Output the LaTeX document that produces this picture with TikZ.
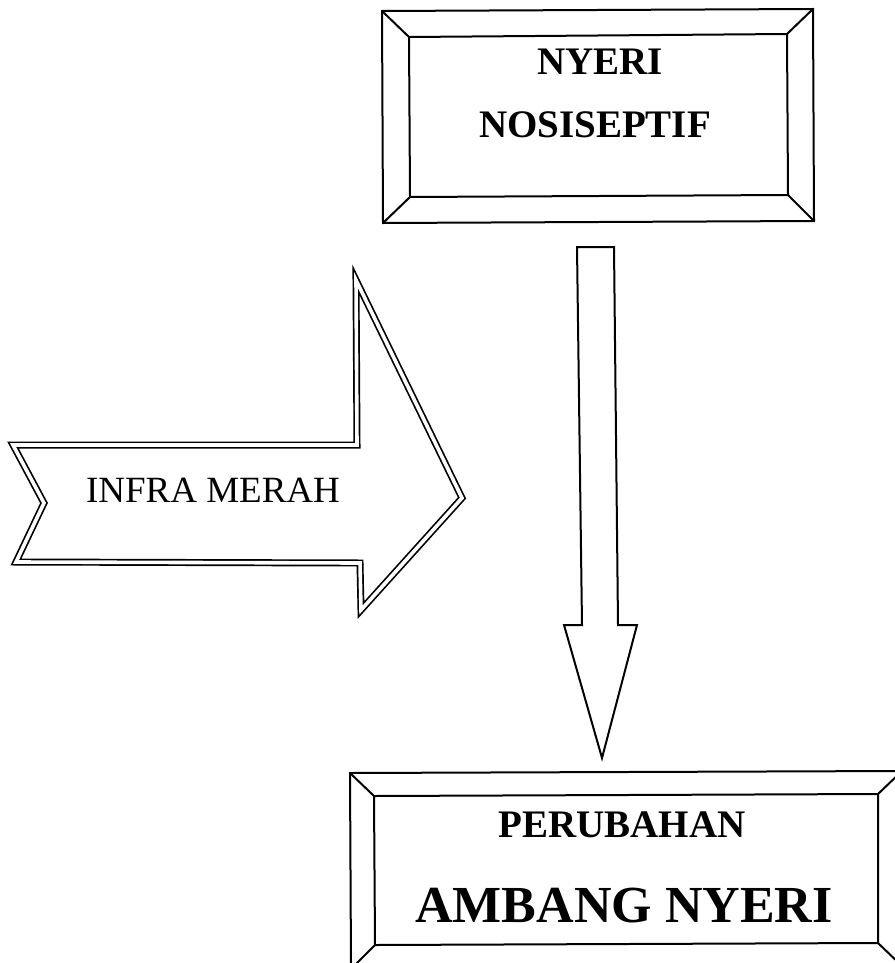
\documentclass[tikz,border=0pt]{standalone}
\usepackage{fontspec}
\setmainfont{Liberation Serif}
\begin{document}
\begin{tikzpicture}[x=1pt,y=-1pt,
  frame/.style={line width=2pt,line join=miter},
  dbl/.style={draw=black,double=white,line width=1.7pt,double distance=3.6pt,line join=miter},
  bigtxt/.style={font=\bfseries\fontsize{39}{46}\selectfont,anchor=base,inner sep=0pt},
  hugetxt/.style={font=\bfseries\fontsize{52}{60}\selectfont,anchor=base,inner sep=0pt},
  plaintxt/.style={font=\fontsize{37}{44}\selectfont,anchor=base,inner sep=0pt}]
\useasboundingbox[fill=white] (0,0) rectangle (894,963);
% top box
\coordinate (to1) at (382,11); \coordinate (to2) at (813,9);
\coordinate (to3) at (814,221); \coordinate (to4) at (383,223);
\coordinate (ti1) at (409,37); \coordinate (ti2) at (787,34);
\coordinate (ti3) at (788,195); \coordinate (ti4) at (410,197);
\draw[frame] (to1) -- (to2) -- (to3) -- (to4) -- cycle;
\draw[frame] (ti1) -- (ti2) -- (ti3) -- (ti4) -- cycle;
\draw[frame] (to1) -- (ti1) (to2) -- (ti2) (to3) -- (ti3) (to4) -- (ti4);
\node[bigtxt] (t1) at (600,75) {NYERI};
\node[bigtxt] (t2) at (595,137) {NOSISEPTIF};
% bottom box
\coordinate (bo1) at (350,773); \coordinate (bo2) at (902,771);
\coordinate (bo3) at (903,967); \coordinate (bo4) at (351,969);
\coordinate (bi1) at (374,796); \coordinate (bi2) at (878,794);
\coordinate (bi3) at (878,943); \coordinate (bi4) at (375,945);
\draw[frame] (bo1) -- (bo2) -- (bo3) -- (bo4) -- cycle;
\draw[frame] (bi1) -- (bi2) -- (bi3) -- (bi4) -- cycle;
\draw[frame] (bo1) -- (bi1) (bo2) -- (bi2) (bo3) -- (bi3) (bo4) -- (bi4);
\node[bigtxt] (b1) at (622,837) {PERUBAHAN};
\node[hugetxt] (b2) at (624,922) {AMBANG NYERI};
% down arrow
\draw[frame] (577,247) -- (614,247) -- (618,625) -- (637,625) -- (602,758)
  -- (564,625) -- (582,625) -- cycle;
% left double-outlined arrow
\draw[dbl] (13,445) -- (357,445) -- (356,280) -- (462,498) -- (361,610)
  -- (360,563) -- (16,562) -- (44,503) -- cycle;
\node[plaintxt] (ir) at (213,502) {INFRA MERAH};
\end{tikzpicture}
\end{document}
